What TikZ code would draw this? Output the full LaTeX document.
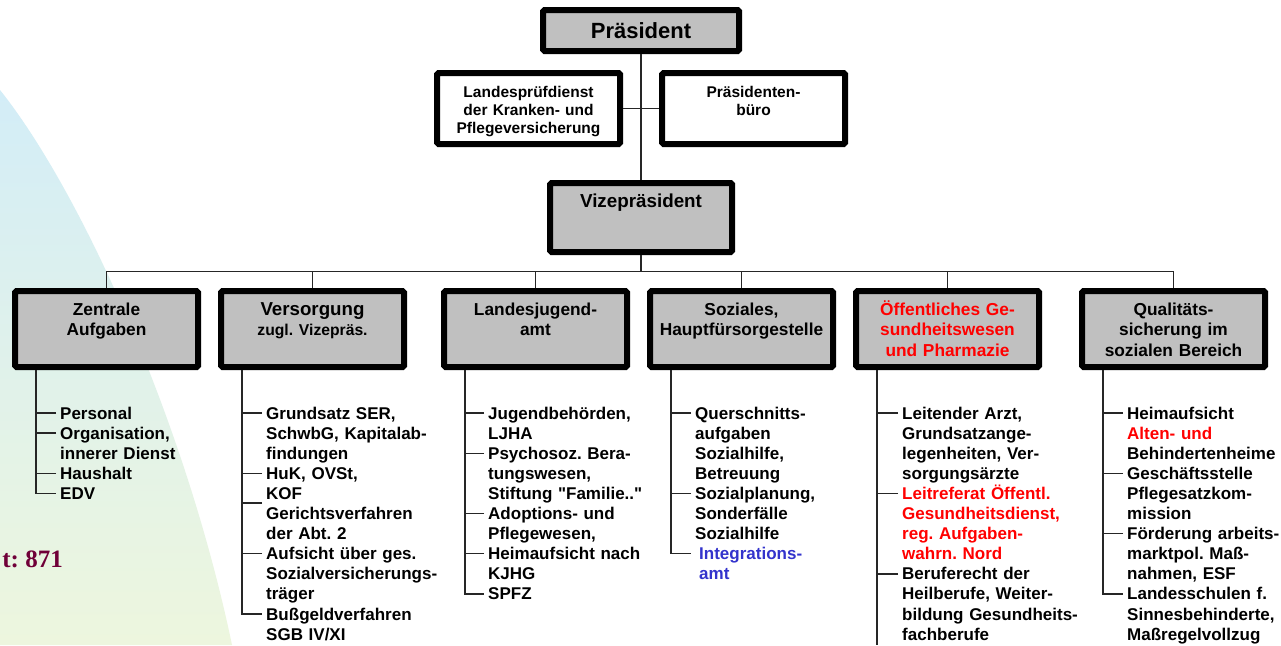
\documentclass[tikz,border=0pt]{standalone}
\usepackage{fontspec}
\setmainfont{Liberation Sans}[Ligatures=TeXOff]
\newfontfamily\serifbold{Liberation Serif}
\usepackage{tikz}
\usetikzlibrary{positioning}
\definecolor{boxgray}{RGB}{192, 192, 192}
\definecolor{skyblue}{RGB}{211, 237, 247}
\definecolor{palegreen}{RGB}{237, 246, 222}
\definecolor{maroon}{RGB}{112, 0, 56}
\definecolor{linkblue}{RGB}{51, 51, 204}
\frenchspacing

\begin{document}
\begin{tikzpicture}[
    x=1pt, y=-1pt,
    node distance=17pt and 17pt,
    link/.style={line width=1.4pt, black!85},
    head/.style={draw, line width=6pt, rounded corners=1.5pt, fill=boxgray, inner sep=0pt, minimum width=196pt, minimum height=41pt, font=\fontsize{22}{26}\selectfont\bfseries},
    staff/.style={draw, line width=6pt, rounded corners=1.5pt, fill=white, inner xsep=4pt, inner ysep=0pt, text width=175pt, align=center, text height=24.5pt, text depth=46.5pt, font=\fontsize{15.5}{18}\selectfont\bfseries},
    dept/.style={draw, line width=6pt, rounded corners=1.5pt, fill=boxgray, inner xsep=4pt, inner ysep=0pt, text width=175pt, align=center, text height=24pt, text depth=52pt, font=\fontsize{17.3}{20.5}\selectfont\bfseries},
    task/.style={anchor=base west, inner sep=0pt, text width=200pt, align=left, font=\fontsize{17}{20.1}\selectfont\bfseries}
]
    \useasboundingbox (0,0) rectangle (1281,645);
    \fill[white] (0,0) rectangle (1281,645);

    % Background
    \shade[top color=skyblue, bottom color=palegreen] (0,90) .. controls (80,190) and (185,420) .. (232,645) -- (0,645) -- cycle;
    \node[anchor=base east, inner sep=0pt, text=maroon, font=\serifbold\fontsize{25}{28}\selectfont\bfseries] (total) at (63,567) {t: 871};

    % Nodes - top
    \node[head] (praes) at (641,30.5) {Präsident};
    \node[staff] (lpd) at (528.5,108.5) {Landesprüfdienst\\der Kranken- und\\Pflegeversicherung};
    \node[staff, right=36pt of lpd] (buero) {Präsidenten-\\büro};
    \node[dept, below=126pt of praes, text width=174pt, text height=24pt, text depth=45pt, font=\fontsize{18.8}{22}\selectfont\bfseries] (vize) {Vizepräsident};

    % Nodes - departments
    \node[dept] (zentral) at (106.5,329) {Zentrale\\Aufgaben};
    \node[dept, right=of zentral] (versorg) {{\fontsize{18.7}{20.5}\selectfont Versorgung}\\{\fontsize{15.7}{20.5}\selectfont zugl. Vizepräs.}};
    \node[dept, right=34pt of versorg] (ljamt) {Landesjugend-\\amt};
    \node[dept, right=of ljamt] (soziales) {Soziales,\\Hauptfürsorgestelle};
    \node[dept, right=of soziales, text=red] (oegd) {Öffentliches Ge-\\sundheitswesen\\und Pharmazie};
    \node[dept, right=37pt of oegd] (qualit) {Qualitäts-\\sicherung im\\sozialen Bereich};

    % Lines - top
    \draw[link] (praes) -- (vize);
    \draw[link] (lpd) -- (buero);
    \coordinate (bus) at (641,271.5);
    \draw[link] (vize) -- (bus);
    \draw[link] (zentral) |- (bus) -| (qualit);
    \draw[link] (versorg) -- (versorg |- bus);
    \draw[link] (ljamt) -- (ljamt |- bus);
    \draw[link] (soziales) -- (soziales |- bus);
    \draw[link] (oegd) -- (oegd |- bus);

    % Tasks - Zentrale Aufgaben
    \node[task] (z1) at (60,419) {Personal};
    \node[task] (z2) at (60,439.1) {Organisation,\\innerer Dienst};
    \node[task] (z3) at (60,479.3) {Haushalt};
    \node[task] (z4) at (60,499.4) {EDV};
    \draw[link] ([xshift=24pt]zentral.south west) |- ([xshift=-4pt,yshift=6pt]z4.base west);
    \draw[link] ([xshift=-4pt,yshift=6pt]z1.base west) -- ++(-20,0);
    \draw[link] ([xshift=-4pt,yshift=6pt]z2.base west) -- ++(-20,0);
    \draw[link] ([xshift=-4pt,yshift=6pt]z3.base west) -- ++(-20,0);

    % Tasks - Versorgung
    \node[task] (v1) at (266,419) {Grundsatz SER,\\SchwbG, Kapitalab-\\findungen};
    \node[task] (v2) at (266,479.3) {HuK, OVSt,\\KOF};
    \node[task] (v3) at (266,519.5) {Gerichtsverfahren\\der Abt. 2};
    \node[task] (v4) at (266,559.7) {Aufsicht über ges.\\Sozialversicherungs-\\träger};
    \node[task] (v5) at (266,620) {Bußgeldverfahren\\SGB IV/XI};
    \draw[link] ([xshift=24pt]versorg.south west) |- ([xshift=-4pt,yshift=6pt]v5.base west);
    \draw[link] ([xshift=-4pt,yshift=6pt]v1.base west) -- ++(-20,0);
    \draw[link] ([xshift=-4pt,yshift=6pt]v2.base west) -- ++(-20,0);
    \draw[link] ([xshift=-4pt,yshift=16.5pt]v3.base west) -- ++(-20,0);
    \draw[link] ([xshift=-4pt,yshift=6pt]v4.base west) -- ++(-20,0);

    % Tasks - Landesjugendamt
    \node[task] (j1) at (488,419) {Jugendbehörden,\\LJHA};
    \node[task] (j2) at (488,459.2) {Psychosoz. Bera-\\tungswesen,\\Stiftung "Familie.."};
    \node[task] (j3) at (488,519.5) {Adoptions- und\\Pflegewesen,};
    \node[task] (j4) at (488,559.7) {Heimaufsicht nach\\KJHG};
    \node[task] (j5) at (488,599.9) {SPFZ};
    \draw[link] ([xshift=24pt]ljamt.south west) |- ([xshift=-4pt,yshift=6pt]j5.base west);
    \draw[link] ([xshift=-4pt,yshift=6pt]j1.base west) -- ++(-20,0);
    \draw[link] ([xshift=-4pt,yshift=6pt]j2.base west) -- ++(-20,0);
    \draw[link] ([xshift=-4pt,yshift=6pt]j3.base west) -- ++(-20,0);
    \draw[link] ([xshift=-4pt,yshift=6pt]j4.base west) -- ++(-20,0);

    % Tasks - Soziales
    \node[task] (s1) at (695,419) {Querschnitts-\\aufgaben\\Sozialhilfe,\\Betreuung};
    \node[task] (s2) at (695,499.4) {Sozialplanung,\\Sonderfälle\\Sozialhilfe};
    \node[task, text=linkblue] (s3) at (699,559.7) {Integrations-\\amt};
    \draw[link] ([xshift=24pt]soziales.south west) |- ([xshift=-8pt,yshift=6pt]s3.base west);
    \draw[link] ([xshift=-4pt,yshift=6pt]s1.base west) -- ++(-20,0);
    \draw[link] ([xshift=-4pt,yshift=6pt]s2.base west) -- ++(-20,0);

    % Tasks - Gesundheitswesen
    \node[task] (o1) at (902,419) {Leitender Arzt,\\Grundsatzange-\\legenheiten, Ver-\\sorgungsärzte};
    \node[task, text=red] (o2) at (902,499.4) {Leitreferat Öffentl.\\Gesundheitsdienst,\\reg. Aufgaben-\\wahrn. Nord};
    \node[task] (o3) at (902,579.8) {Beruferecht der\\Heilberufe, Weiter-\\bildung Gesundheits-\\fachberufe};
    \draw[link] ([xshift=24pt]oegd.south west) -- ++(0,275);
    \draw[link] ([xshift=-4pt,yshift=6pt]o1.base west) -- ++(-20,0);
    \draw[link] ([xshift=-4pt,yshift=6pt]o2.base west) -- ++(-20,0);
    \draw[link] ([xshift=-4pt,yshift=6pt]o3.base west) -- ++(-20,0);

    % Tasks - Qualitaetssicherung
    \node[task] (q1) at (1127,419) {Heimaufsicht\\\textcolor{red}{Alten- und}\\Behindertenheime};
    \node[task] (q2) at (1127,479.3) {Geschäftsstelle\\Pflegesatzkom-\\mission};
    \node[task] (q3) at (1127,539.6) {Förderung arbeits-\\marktpol. Maß-\\nahmen, ESF};
    \node[task] (q4) at (1127,599.9) {Landesschulen f.\\Sinnesbehinderte,\\Maßregelvollzug};
    \draw[link] ([xshift=24pt]qualit.south west) |- ([xshift=-4pt,yshift=6pt]q4.base west);
    \draw[link] ([xshift=-4pt,yshift=6pt]q1.base west) -- ++(-20,0);
    \draw[link] ([xshift=-4pt,yshift=6pt]q2.base west) -- ++(-20,0);
    \draw[link] ([xshift=-4pt,yshift=6pt]q3.base west) -- ++(-20,0);
\end{tikzpicture}
\end{document}
